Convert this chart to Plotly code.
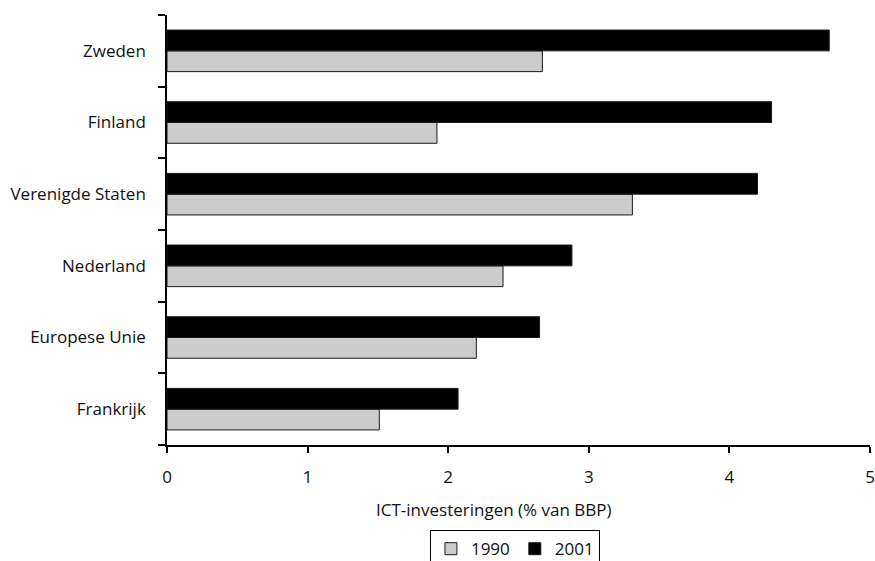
import plotly.graph_objects as go

countries = ["Zweden", "Finland", "Verenigde Staten", "Nederland", "Europese Unie", "Frankrijk"]
vals_1990 = [2.67, 1.92, 3.31, 2.39, 2.20, 1.51]
vals_2001 = [4.71, 4.30, 4.20, 2.88, 2.65, 2.07]
x_ticks = [0, 1, 2, 3, 4, 5]
x_title = "ICT-investeringen (% van BBP)"

FONT = "Open Sans"
FS = 17

fig = go.Figure()
fig.add_trace(go.Bar(
    y=countries, x=vals_1990, name="1990", orientation="h",
    marker=dict(color="#cccccc", line=dict(color="#1a1a1a", width=1)),
))
fig.add_trace(go.Bar(
    y=countries, x=vals_2001, name="2001", orientation="h",
    marker=dict(color="#000000", line=dict(color="#1a1a1a", width=1)),
))

fig.update_layout(
    width=875, height=561,
    margin=dict(l=167, r=5, t=15, b=116, autoexpand=False),
    paper_bgcolor="white", plot_bgcolor="white",
    font=dict(family=FONT, size=FS, color="#111111"),
    barmode="group", bargap=0.42, bargroupgap=0,
    showlegend=True,
    legend=dict(
        orientation="h", x=0.374, y=-0.198, xanchor="left", yanchor="top",
        bordercolor="#000000", borderwidth=1, bgcolor="white",
        font=dict(family=FONT, size=FS, color="#111111"),
        itemwidth=30, traceorder="normal",
        tracegroupgap=0,
    ),
    xaxis=dict(
        range=[0, 5], tickvals=x_ticks, ticktext=[str(v) for v in x_ticks],
        showgrid=False, zeroline=False, showline=True, linecolor="#000000", linewidth=1.5,
        ticks="outside", ticklen=6, tickcolor="#000000", tickwidth=1.5,
        ticklabelstandoff=10,
    ),
    yaxis=dict(
        type="category", categoryorder="array", categoryarray=list(reversed(countries)),
        showgrid=False, zeroline=False, showline=True, linecolor="#000000", linewidth=1.5,
        ticks="outside", ticklen=7, tickcolor="#000000", tickwidth=1.5,
        tickson="boundaries", ticklabelstandoff=16,
    ),
    annotations=[dict(
        text=x_title, xref="paper", yref="paper", x=0.465, y=-0.151,
        xanchor="center", yanchor="middle", showarrow=False,
        font=dict(family=FONT, size=FS, color="#111111"),
    )],
)

fig.write_html("out.html")
